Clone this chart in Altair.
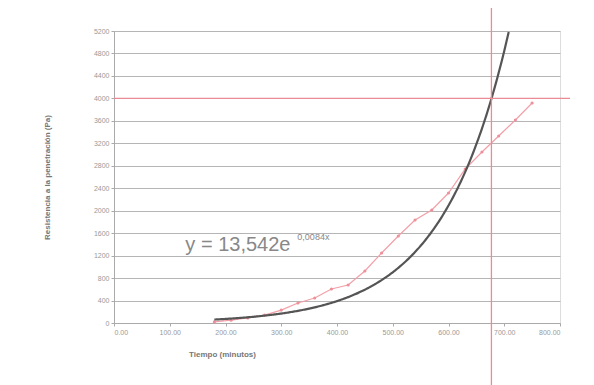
import altair as alt
import pandas as pd

# measured points (time in minutes, resistance in Pa)
tiempo = [180, 210, 240, 270, 300, 330, 360, 390, 420, 450, 480, 510, 540, 570, 600, 630, 660, 690, 720, 750]
resistencia = [20, 50, 90, 140, 230, 356, 445, 605, 677, 926, 1247, 1549, 1834, 2012, 2315, 2743, 3045, 3330, 3615, 3918]

# trendline shown on the chart: y = 13,542 e^(0,0084x)
coef_a = 13.542
coef_b = 0.0084
trend_start, trend_end = 180, 708

x_ticks = [0, 100, 200, 300, 400, 500, 600, 700, 800]
y_ticks = [0, 400, 800, 1200, 1600, 2000, 2400, 2800, 3200, 3600, 4000, 4400, 4800, 5200]

ref_x = 677   # vertical red line
ref_y = 4000  # horizontal red line

eq_label = ["y = 13,542e"]
eq_sup = ["0,0084x"]
eq_pos = (128, 1390)

font = "Liberation Sans"

df = pd.DataFrame({"t": tiempo, "r": resistencia})

xscale = alt.Scale(domain=[0, 800], nice=False, zero=False)
yscale = alt.Scale(domain=[0, 5200], nice=False)

xax = alt.Axis(values=x_ticks, format=".2f", title="Tiempo (minutos)", grid=False,
               labelFontSize=7, labelColor="#999", titleFontSize=8, titleColor="#777",
               titleFont=font, labelFont=font, domainColor="#aaa", tickColor="#aaa",
               tickSize=3, titlePadding=15, titleX=108, titleAnchor="middle",
               labelOverlap=False)
yax = alt.Axis(values=y_ticks, format="d", title="Resistencia a la penetración (Pa)",
               grid=True, gridColor="#b5b5b5", labelFontSize=7, labelColor="#999",
               titleFontSize=8, titleColor="#777", titleFont=font, labelFont=font,
               domainColor="#aaa", tickColor="#aaa", tickSize=3, titlePadding=42,
               labelOverlap=False)

X = lambda: alt.X("t:Q", scale=xscale, axis=xax)
Y = lambda: alt.Y("r:Q", scale=yscale, axis=yax)

points_line = alt.Chart(df).mark_line(color="#f2a0a8", strokeWidth=1.2, point=alt.OverlayMarkDef(
    color="#ee8f99", size=10, filled=True)).encode(x=X(), y=Y())

trend = alt.Chart(alt.sequence(trend_start, trend_end + 1, 2, as_="t")).transform_calculate(
    r=f"{coef_a} * exp({coef_b} * datum.t)"
).mark_line(color="#555", strokeWidth=2.2).encode(x=X(), y=Y())

vline = alt.Chart(pd.DataFrame({"t": [ref_x]})).mark_rule(
    color="#ea8a95", strokeWidth=1.3, clip=False).encode(
    x=X(), y=alt.value(-31), y2=alt.value(360)
)
hline = alt.Chart(pd.DataFrame({"r": [ref_y]})).mark_rule(
    color="#ea8a95", strokeWidth=1.3, clip=False).encode(
    y=Y(), x=alt.value(0), x2=alt.value(456)
)

eq = alt.Chart(pd.DataFrame({"t": [eq_pos[0]], "r": [eq_pos[1]], "s": eq_label})).mark_text(
    align="left", baseline="middle", fontSize=20, color="#888", font=font).encode(
    x=X(), y=Y(), text="s:N"
)
eq2 = alt.Chart(pd.DataFrame({"t": [eq_pos[0]], "r": [eq_pos[1]], "s": eq_sup})).mark_text(
    align="left", baseline="middle", fontSize=9, color="#888", font=font, dx=112, dy=-8).encode(
    x=X(), y=Y(), text="s:N"
)

chart = alt.layer(points_line, trend, vline, hline, eq, eq2).properties(
    width=446, height=292,
    autosize=alt.AutoSizeParams(type="none"),
    padding={"left": 106, "top": 23, "right": 20, "bottom": 70},
).configure_view(stroke="#bbb", strokeWidth=1).configure(background="white")

chart.save("out.html", embed_options={"renderer": "svg", "actions": False})
